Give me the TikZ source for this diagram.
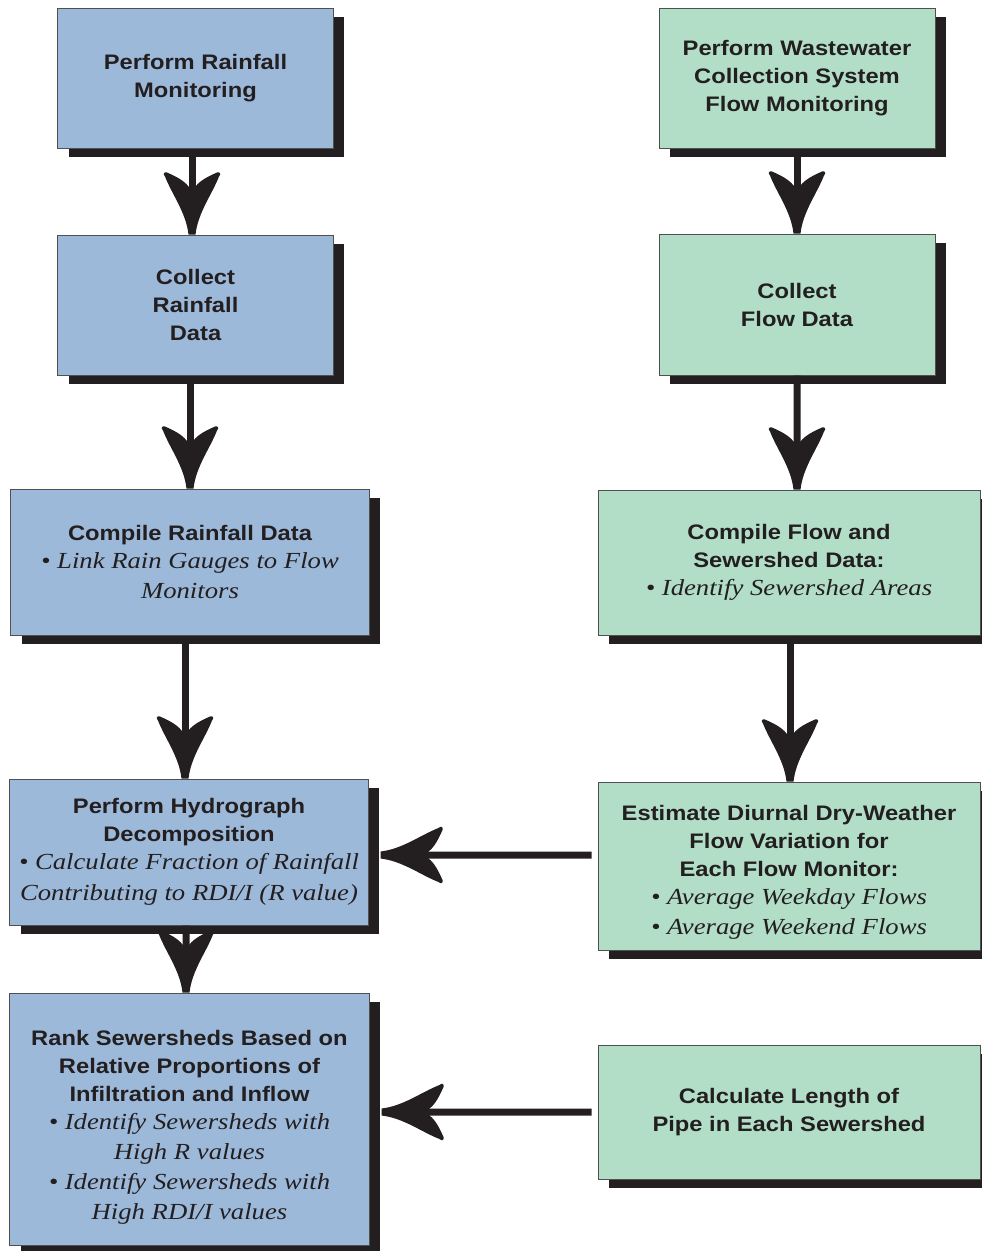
\documentclass[tikz,border=0pt]{standalone}
\usepackage{fontspec}
\usetikzlibrary{shadows}
\newfontfamily\headfont{Liberation Sans}[FakeStretch=1.13]
\newfontfamily\notefont{Liberation Serif}[FakeStretch=1.16]
\newcommand\note[1]{{\notefont\mdseries\itshape\fontsize{23bp}{28bp}\selectfont #1}}

\definecolor{rainfill}{RGB}{157,185,218}
\definecolor{flowfill}{RGB}{178,222,200}
\definecolor{ink}{RGB}{35,31,32}
\definecolor{edge}{RGB}{80,80,80}

% broad flared arrow head with curved barbs and a blunt tip
\pgfdeclarearrow{
  name = Flare,
  parameters = {},
  setup code = {
    \pgfarrowssettipend{0pt}
    \pgfarrowssetlineend{-47bp}
    \pgfarrowssetbackend{-63bp}
  },
  drawing code = {
    \pgfpathmoveto{\pgfqpoint{0bp}{-3.5bp}}
    \pgfpathlineto{\pgfqpoint{0bp}{3.5bp}}
    \pgfpathcurveto{\pgfqpoint{-22bp}{6bp}}{\pgfqpoint{-40bp}{20bp}}{\pgfqpoint{-58bp}{27bp}}
    \pgfpathcurveto{\pgfqpoint{-60bp}{29bp}}{\pgfqpoint{-63bp}{28.5bp}}{\pgfqpoint{-62bp}{25bp}}
    \pgfpathcurveto{\pgfqpoint{-58bp}{16bp}}{\pgfqpoint{-54bp}{8bp}}{\pgfqpoint{-48bp}{3.5bp}}
    \pgfpathlineto{\pgfqpoint{-48bp}{-3.5bp}}
    \pgfpathcurveto{\pgfqpoint{-54bp}{-8bp}}{\pgfqpoint{-58bp}{-16bp}}{\pgfqpoint{-62bp}{-25bp}}
    \pgfpathcurveto{\pgfqpoint{-63bp}{-28.5bp}}{\pgfqpoint{-60bp}{-29bp}}{\pgfqpoint{-58bp}{-27bp}}
    \pgfpathcurveto{\pgfqpoint{-40bp}{-20bp}}{\pgfqpoint{-22bp}{-6bp}}{\pgfqpoint{0bp}{-3.5bp}}
    \pgfpathclose
    \pgfusepathqfill
  }
}

\tikzset{
  box/.style={draw=edge, line width=1bp, align=center, inner sep=0pt,
    text=ink, font=\headfont\bfseries\fontsize{21bp}{28bp}\selectfont,
    general shadow={fill=ink, shadow xshift=11bp, shadow yshift=-9bp}},
  rainbox/.style={box, fill=rainfill},
  flowbox/.style={box, fill=flowfill},
  flow/.style={draw=ink, line width=7bp, -Flare}
}

\begin{document}
\begin{tikzpicture}[x=1bp, y=-1bp]
\useasboundingbox (0,0) rectangle (982,1251);

% rainfall column
\node[rainbox, minimum width=275bp, minimum height=140bp] (b1) at (195.5,78)
  {Perform Rainfall\\Monitoring};
\node[rainbox, minimum width=275bp, minimum height=140bp] (b2) at (195.5,305)
  {Collect\\Rainfall\\Data};
\node[rainbox, minimum width=358bp, minimum height=146bp] (b3) at (190,562)
  {Compile Rainfall Data\\\note{\textbullet\ Link Rain Gauges to Flow}\\[2bp]\note{Monitors}};
\node[rainbox, minimum width=358bp, minimum height=146bp] (b4) at (189,852)
  {Perform Hydrograph\\Decomposition\\\note{\textbullet\ Calculate Fraction of Rainfall}\\[3bp]\note{Contributing to RDI/I (R value)}};
\node[rainbox, minimum width=359bp, minimum height=252bp] (b5) at (189.5,1119)
  {\rule{0pt}{31bp}Rank Sewersheds Based on\\Relative Proportions of\\Infiltration and Inflow\\\note{\textbullet\ Identify Sewersheds with}\\[2bp]\note{High R values}\\[2bp]\note{\textbullet\ Identify Sewersheds with}\\[2bp]\note{High RDI/I values}};

% flow column
\node[flowbox, minimum width=276bp, minimum height=140bp] (g1) at (797,78)
  {Perform Wastewater\\Collection System\\Flow Monitoring};
\node[flowbox, minimum width=276bp, minimum height=141bp] (g2) at (797,304.5)
  {Collect\\Flow Data};
\node[flowbox, minimum width=382bp, minimum height=145bp] (g3) at (789,562.5)
  {Compile Flow and\\Sewershed Data:\\\note{\textbullet\ Identify Sewershed Areas}};
\node[flowbox, minimum width=382bp, minimum height=168bp] (g4) at (789,866)
  {\rule{0pt}{27.5bp}Estimate Diurnal Dry-Weather\\Flow Variation for\\Each Flow Monitor:\\\note{\textbullet\ Average Weekday Flows}\\[2bp]\note{\textbullet\ Average Weekend Flows}};
\node[flowbox, minimum width=382bp, minimum height=134bp] (g5) at (789,1112)
  {Calculate Length of\\Pipe in Each Sewershed};

% connectors down the rainfall column
\draw[flow] ([xshift=-3.5bp]b1.south) -- ([xshift=-3.5bp]b2.north);
\draw[flow] (b3.north |- b2.south) -- (b3.north);
\draw[flow] ([xshift=-5bp]b3.south) -- ([xshift=-4bp]b4.north);
\draw[flow] ([xshift=-3bp]b4.south) -- ([xshift=-3.5bp]b5.north);

% connectors down the flow column
\draw[flow] (g1.south) -- (g2.north);
\draw[flow] (g2.south) -- ([xshift=8bp]g3.north);
\draw[flow] ([xshift=1bp]g3.south) -- ([xshift=1bp]g4.north);

% connectors across
\draw[flow] ([xshift=-6bp, yshift=11bp]g4.west) -- ([xshift=12bp, yshift=-3bp]b4.east);
\draw[flow] ([xshift=-6bp]g5.west) -- ([xshift=12bp, yshift=7bp]b5.east);
\end{tikzpicture}
\end{document}
